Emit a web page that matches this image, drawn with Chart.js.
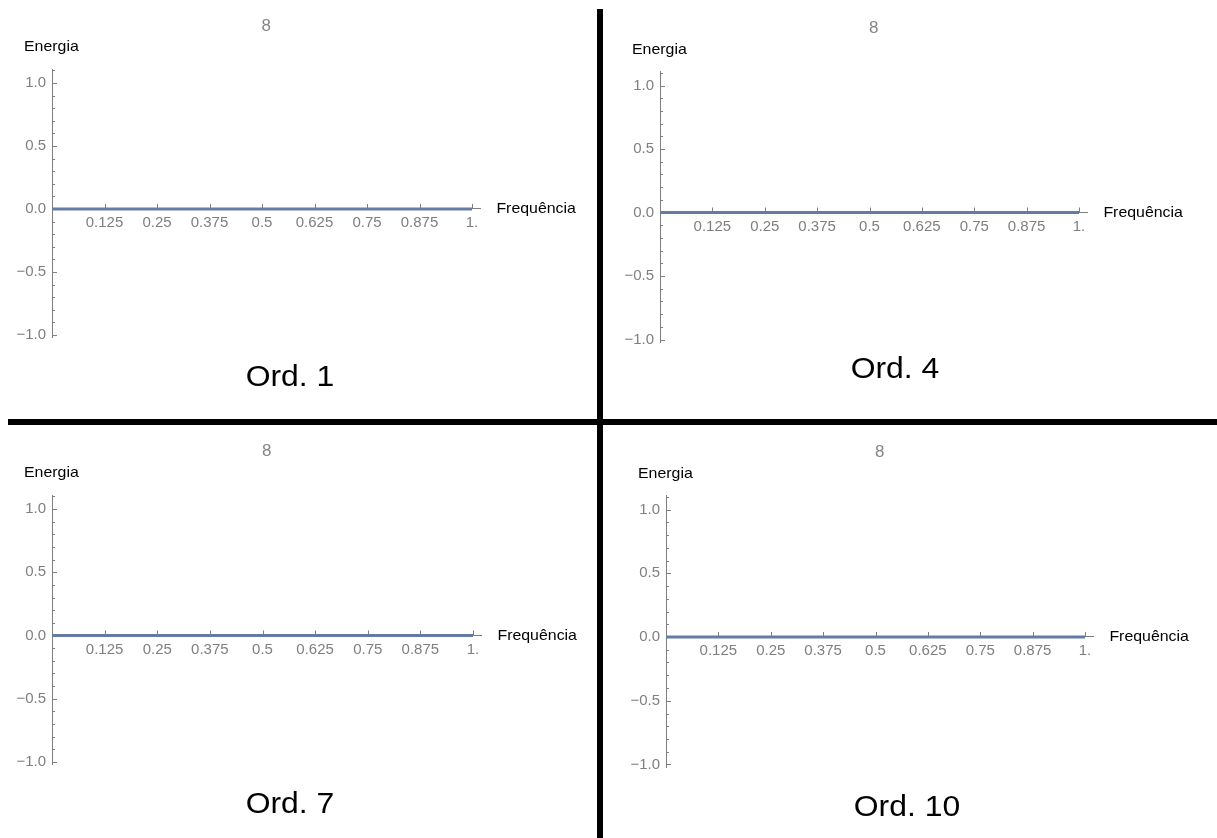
<!DOCTYPE html>
<html>
<head>
<meta charset="utf-8">
<script src="https://cdn.jsdelivr.net/npm/chart.js@4"></script>
<style>
  body { margin: 0; width: 1217px; height: 838px; background: #fff; position: relative; overflow: hidden;
         font-family: "Liberation Sans", Arial, sans-serif; }
  canvas { position: absolute; }
  .ordem { position: absolute; font-size: 29px; color: #000; white-space: nowrap;
           transform: translate(-50%, -50%) scaleX(1.1); }
  .divisor { position: absolute; background: #000; }
</style>
</head>
<body>
<canvas id="painel0"></canvas>
<canvas id="painel1"></canvas>
<canvas id="painel2"></canvas>
<canvas id="painel3"></canvas>
<div class="divisor" style="left:597px; top:9px; width:6px; height:829px"></div>
<div class="divisor" style="left:8px; top:419px; width:1209px; height:6px"></div>
<script>
// espectro de energia para cada ordem
const frequencia = [0, 0.125, 0.25, 0.375, 0.5, 0.625, 0.75, 0.875, 1];
const energiaOrd1 = [0, 0, 0, 0, 0, 0, 0, 0, 0];
const energiaOrd4 = [0, 0, 0, 0, 0, 0, 0, 0, 0];
const energiaOrd7 = [0, 0, 0, 0, 0, 0, 0, 0, 0];
const energiaOrd10 = [0, 0, 0, 0, 0, 0, 0, 0, 0];
const ordens = ["Ord. 1", "Ord. 4", "Ord. 7", "Ord. 10"];
const titulo = "8";
const xTickLabels = ["0.125", "0.25", "0.375", "0.5", "0.625", "0.75", "0.875", "1."];
const yTickLabels = ["\u22121.0", "\u22120.5", "0.0", "0.5", "1.0"];

const energias = [energiaOrd1, energiaOrd4, energiaOrd7, energiaOrd10];

// onde fica cada painel na pagina
const paineis = [
  {box: [0, 0, 597, 419],   ox: 52,  oy: 209,   sx: 420, sy: 126,   ord: [290, 376]},
  {box: [603, 0, 614, 419], ox: 660, oy: 212.5, sx: 419, sy: 127,   ord: [895, 368]},
  {box: [0, 425, 597, 413], ox: 52,  oy: 635.5, sx: 421, sy: 126.5, ord: [290, 803]},
  {box: [603, 425, 614, 413], ox: 666, oy: 637, sx: 419, sy: 127.5, ord: [907, 806]}
];

const X_MAX = 1.02, Y_MIN = -1.02, Y_MAX = 1.11;
const LARG_EIXO_Y = 40;
const CINZA = "#7f7f7f";
const FONTE = '"Liberation Sans", Arial, sans-serif';

function ehMaior(v) {
  return Math.abs(v * 2 - Math.round(v * 2)) < 1e-9;
}

// marcas dos eixos para dentro, como no Mathematica
const marcas = {
  id: "marcas",
  beforeDatasetsDraw(chart) {
    const {ctx, scales: {x, y}} = chart;
    const x0 = x.getPixelForValue(0), y0 = y.getPixelForValue(0);
    ctx.save();
    ctx.strokeStyle = CINZA;
    ctx.lineWidth = 1;
    ctx.beginPath();
    y.ticks.forEach(t => {
      const py = Math.round(y.getPixelForValue(t.value)) + 0.5;
      ctx.moveTo(x0, py);
      ctx.lineTo(x0 + (ehMaior(t.value) ? 5 : 3), py);
    });
    x.ticks.forEach(t => {
      if (t.value <= 0) return;
      const px = Math.round(x.getPixelForValue(t.value)) + 0.5;
      ctx.moveTo(px, y0);
      ctx.lineTo(px, y0 - 5);
    });
    ctx.stroke();
    ctx.restore();
  }
};

function texto(ctx, s, x, y, align) {
  ctx.save();
  ctx.translate(x, y);
  ctx.scale(1.06, 1);
  ctx.textAlign = align;
  ctx.textBaseline = "middle";
  ctx.fillText(s, 0, 0);
  ctx.restore();
}

// titulo e nomes dos eixos
const rotulos = {
  id: "rotulos",
  afterDraw(chart, args, opts) {
    const {ctx, chartArea: a, scales: {x, y}} = chart;
    ctx.save();
    ctx.fillStyle = "#858585";
    ctx.font = "16px " + FONTE;
    texto(ctx, opts.titulo, (a.left + a.right) / 2, a.top - 43, "center");
    ctx.fillStyle = "#000";
    ctx.font = "15px " + FONTE;
    texto(ctx, "Energia", x.getPixelForValue(0) - 28, a.top - 22, "left");
    texto(ctx, "Frequência", a.right + 16, y.getPixelForValue(0), "left");
    ctx.restore();
  }
};

paineis.forEach((p, i) => {
  const [bl, bt, bw, bh] = p.box;
  const cv = document.getElementById("painel" + i);
  cv.width = bw; cv.height = bh;
  cv.style.left = bl + "px"; cv.style.top = bt + "px";

  const top = p.oy - Y_MAX * p.sy, bottom = p.oy - Y_MIN * p.sy, right = p.ox + X_MAX * p.sx;

  new Chart(cv, {
    type: "line",
    data: {
      datasets: [{
        data: frequencia.map((f, k) => ({x: f, y: energias[i][k]})),
        borderColor: "rgb(100, 124, 163)",
        borderWidth: 3,
        pointRadius: 0,
        tension: 0
      }]
    },
    options: {
      responsive: false,
      animation: false,
      layout: {padding: {left: p.ox - bl - LARG_EIXO_Y, right: bl + bw - right, top: top - bt, bottom: bt + bh - bottom}},
      plugins: {legend: {display: false}, tooltip: {enabled: false}, rotulos: {titulo: titulo}},
      scales: {
        x: {
          type: "linear",
          min: 0, max: X_MAX,
          position: {y: 0},
          afterFit: s => { s.height = 0; },
          grid: {display: true, drawOnChartArea: false, drawTicks: false},
          border: {display: true, color: CINZA, width: 1},
          ticks: {
            stepSize: 0.125, includeBounds: false, autoSkip: false, maxRotation: 0, padding: 5,
            color: CINZA, font: {family: FONTE, size: 15},
            callback: v => (v > 0 ? xTickLabels[Math.round(v / 0.125) - 1] : "")
          }
        },
        y: {
          type: "linear",
          min: Y_MIN, max: Y_MAX,
          position: "left",
          afterFit: s => { s.width = LARG_EIXO_Y; },
          grid: {display: true, drawOnChartArea: false, drawTicks: false},
          border: {display: true, color: CINZA, width: 1},
          ticks: {
            stepSize: 0.1, includeBounds: false, autoSkip: false, padding: 6,
            color: CINZA, font: {family: FONTE, size: 15},
            callback: v => (ehMaior(v) ? yTickLabels[Math.round(v * 2) + 2] : "")
          }
        }
      }
    },
    plugins: [marcas, rotulos]
  });

  const d = document.createElement("div");
  d.className = "ordem";
  d.textContent = ordens[i];
  d.style.left = p.ord[0] + "px";
  d.style.top = p.ord[1] + "px";
  document.body.appendChild(d);
});
</script>
</body>
</html>
